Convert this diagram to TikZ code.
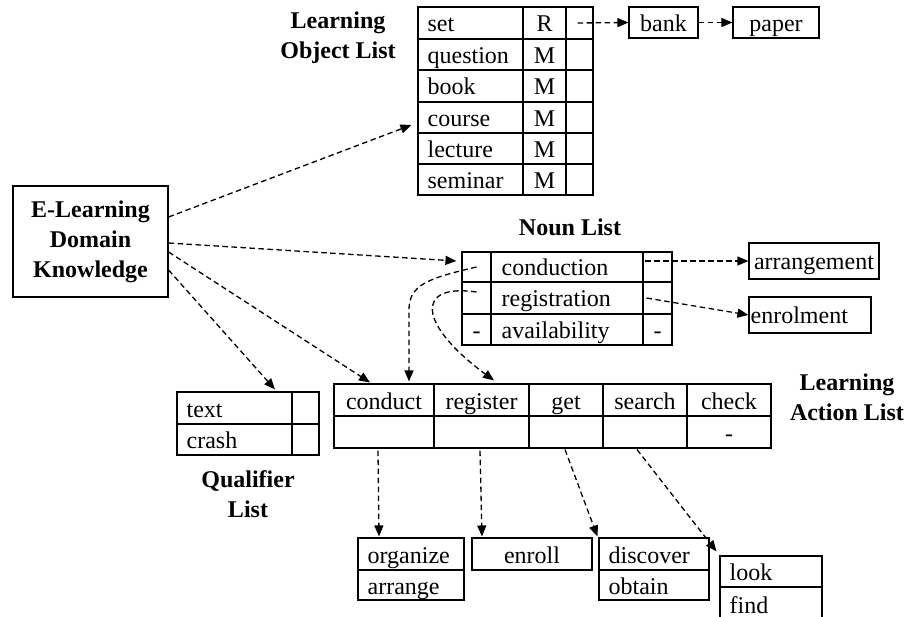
\documentclass[tikz,border=0pt]{standalone}
\usepackage{fontspec}
\setmainfont{Liberation Serif}
\usetikzlibrary{arrows.meta,calc}
\newcommand\mkcell[5]{\node[cell, minimum width={(#4-#2)*1pt}, minimum height={(#5-#3)*1pt}] (#1) at ({(#2+#4)/2},{(#3+#5)/2}) {};}
\newcommand\ctext[2]{\node[txt] (#1t) at (#1.center) {#2};}
\newcommand\ltext[3][10]{\node[txt, anchor=west] (#2t) at ([xshift=#1pt]#2.west) {#3};}
\begin{document}
\begin{tikzpicture}[x=1pt,y=-1pt,
 font=\fontsize{24}{30}\selectfont,
 cell/.style={draw, line width=1.1pt, inner sep=0pt},
 txt/.style={inner sep=0pt, text height=23pt, text depth=5pt},
 lbl/.style={inner sep=0pt, align=center, font=\fontsize{24}{30}\selectfont\bfseries},
 arr/.style={line width=1.3pt, dash pattern=on 5.5pt off 3.5pt, -{Triangle[length=11pt,width=9pt]}},
]
\useasboundingbox (0,0) rectangle (907,617);

% Learning Object List
\node[lbl] (loltitle) at (338,37.5) {Learning\\Object List};
\mkcell{lo1a}{418}{7}{523}{39}\ltext{lo1a}{set}
\mkcell{lo1b}{523}{7}{566}{39}\ctext{lo1b}{R}
\mkcell{lo1c}{566}{7}{593}{39}
\mkcell{lo2a}{418}{39}{523}{70}\ltext{lo2a}{question}
\mkcell{lo2b}{523}{39}{566}{70}\ctext{lo2b}{M}
\mkcell{lo2c}{566}{39}{593}{70}
\mkcell{lo3a}{418}{70}{523}{102}\ltext{lo3a}{book}
\mkcell{lo3b}{523}{70}{566}{102}\ctext{lo3b}{M}
\mkcell{lo3c}{566}{70}{593}{102}
\mkcell{lo4a}{418}{102}{523}{133}\ltext{lo4a}{course}
\mkcell{lo4b}{523}{102}{566}{133}\ctext{lo4b}{M}
\mkcell{lo4c}{566}{102}{593}{133}
\mkcell{lo5a}{418}{133}{523}{164}\ltext{lo5a}{lecture}
\mkcell{lo5b}{523}{133}{566}{164}\ctext{lo5b}{M}
\mkcell{lo5c}{566}{133}{593}{164}
\mkcell{lo6a}{418}{164}{523}{195}\ltext{lo6a}{seminar}
\mkcell{lo6b}{523}{164}{566}{195}\ctext{lo6b}{M}
\mkcell{lo6c}{566}{164}{593}{195}

\mkcell{bank}{629}{7}{698}{38}\ctext{bank}{bank}
\mkcell{paper}{733}{7}{819}{38}\ctext{paper}{paper}

% E-Learning box
\node[cell, minimum width=155pt, minimum height=111pt, align=center,
      font=\fontsize{24}{30}\selectfont\bfseries] (elk) at (90.5,241.5) {E-Learning\\Domain\\Knowledge};

% Noun List
\node[lbl] (nountitle) at (570,227) {Noun List};
\mkcell{n1a}{462}{252}{491}{282}
\mkcell{n1b}{491}{252}{643}{282}\ltext[11]{n1b}{conduction}
\mkcell{n1c}{643}{252}{672}{282}
\mkcell{n2a}{462}{282}{491}{314}
\mkcell{n2b}{491}{282}{643}{314}\ltext[11]{n2b}{registration}
\mkcell{n2c}{643}{282}{672}{314}
\mkcell{n3a}{462}{314}{491}{345}\ctext{n3a}{-}
\mkcell{n3b}{491}{314}{643}{345}\ltext[11]{n3b}{availability}
\mkcell{n3c}{643}{314}{672}{345}\ctext{n3c}{-}

\mkcell{arg}{749}{243}{879}{279}\ctext{arg}{arrangement}
\mkcell{enr}{749}{297}{871}{333}\ltext[2]{enr}{enrolment}

% Qualifier List
\mkcell{q1a}{177}{392}{292}{424}\ltext{q1a}{text}
\mkcell{q1b}{292}{392}{319}{424}
\mkcell{q2a}{177}{424}{292}{455}\ltext{q2a}{crash}
\mkcell{q2b}{292}{424}{319}{455}
\node[lbl] (qtitle) at (248,494) {Qualifier\\List};

% Learning Action List
\mkcell{a1}{334}{384}{434}{416}\ctext{a1}{conduct}
\mkcell{a2}{434}{384}{529}{416}\ctext{a2}{register}
\mkcell{a3}{529}{384}{603}{416}\ctext{a3}{get}
\mkcell{a4}{603}{384}{687}{416}\ctext{a4}{search}
\mkcell{a5}{687}{384}{771}{416}\ctext{a5}{check}
\mkcell{a1b}{334}{416}{434}{448}
\mkcell{a2b}{434}{416}{529}{448}
\mkcell{a3b}{529}{416}{603}{448}
\mkcell{a4b}{603}{416}{687}{448}
\mkcell{a5b}{687}{416}{771}{448}\ctext{a5b}{-}
\node[lbl] (atitle) at (847,397) {Learning\\Action List};

% Bottom boxes
\mkcell{o1}{358}{538}{464}{570}\ltext{o1}{organize}
\mkcell{o2}{358}{570}{464}{600}\ltext{o2}{arrange}
\mkcell{enl}{472}{538}{592}{570}\ctext{enl}{enroll}
\mkcell{d1}{599}{538}{709}{570}\ltext{d1}{discover}
\mkcell{d2}{599}{570}{709}{600}\ltext{d2}{obtain}
\mkcell{lk}{720}{556}{822}{587}\ltext{lk}{look}
\mkcell{fd}{720}{587}{822}{622}\ltext{fd}{find}

% Connectors
\draw[arr] ([xshift=-2pt]lo1c.center) -- (bank.west);
\draw[arr] (bank.east) -- (paper.west);

\draw[arr] ([yshift=24.5pt]elk.east) -- ([xshift=-6pt,yshift=-7.5pt]lo4a.west);
\draw[arr] ([yshift=-1.5pt]elk.east) -- ([xshift=-5pt,yshift=6pt]n1a.west);
\draw[arr] ([yshift=-10.5pt]elk.east) -- ([xshift=-14pt,yshift=1pt]a1.north);
\draw[arr] ([yshift=-28.5pt]elk.east) -- ([xshift=40.5pt,yshift=2pt]q1a.north);

\draw[arr] ([xshift=3pt]n1c.west |- arg.west) -- (arg.west);
\draw[arr] ([xshift=4pt]n2c.west) -- (enr.west);

\draw[arr] (n1a.center) .. controls +(-47,11) and +(0,-25) .. ([xshift=25pt,yshift=74pt]a1.north) -- ([xshift=25pt,yshift=2pt]a1.north);
\draw[arr] ([yshift=6pt]n2a.center) .. controls +(-62,-9) and +(-76,-56) .. ([xshift=12.5pt,yshift=3pt]a2.north);

\draw[arr] ([xshift=-6pt,yshift=-2pt]a1b.south) -- ([xshift=-32pt,yshift=1pt]o1.north);
\draw[arr] ([xshift=-1.5pt,yshift=-2pt]a2b.south) -- ([xshift=-50pt,yshift=1pt]enl.north);
\draw[arr] ([xshift=-1pt,yshift=-1pt]a3b.south) -- ([xshift=-1pt,yshift=1pt]d1.north west);
\draw[arr] ([xshift=-8pt,yshift=-1pt]a4b.south) -- ([xshift=-3pt,yshift=4pt]lk.north west);
\end{tikzpicture}
\end{document}
